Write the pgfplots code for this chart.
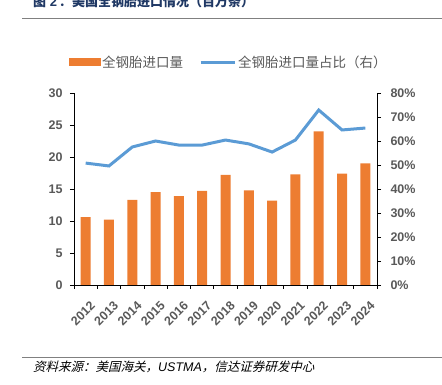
\documentclass[border=0pt]{standalone}
\usepackage{fontspec}
\setmainfont{Liberation Sans}
\newfontfamily\cjk{Noto Sans CJK SC}
\newfontfamily\cjkb{Noto Sans CJK SC Bold}
\newfontfamily\cjkit{Noto Sans CJK SC}[FakeSlant=0.25]
\usepackage{pgfplots}
\pgfplotsset{compat=1.18}
\definecolor{barorange}{HTML}{ED7D31}
\definecolor{lineblue}{HTML}{5B9BD5}
\definecolor{txtgray}{HTML}{595959}
\definecolor{titleblue}{HTML}{1F3864}
\begin{document}
\begin{tikzpicture}[x=1pt,y=1pt]
\path[use as bounding box] (0,0) rectangle (442,385);
\clip (0,0) rectangle (442,385);
\node[anchor=base west, inner sep=0pt, text=titleblue, font=\fontsize{13}{15}\selectfont\bfseries] at (33,378) {{\cjkb 图} 2\,{\cjkb ：美国全钢胎进口情况（百万条）}};
\draw[gray, line width=1pt] (22,366) -- (442,366);
\draw[gray, line width=1pt] (22,27) -- (442,27);
\node[anchor=base west, inner sep=0pt, text=black, font=\fontsize{12.5}{14}\selectfont] at (33,13) {{\cjkit 资料来源：美国海关，}\textit{USTMA}{\cjkit ，信达证券研发中心}};

\begin{axis}[
  at={(74pt,100pt)}, anchor=south west,
  scale only axis, width=303pt, height=192pt,
  xmin=-0.5, xmax=12.5, ymin=0, ymax=30,
  axis y line*=left, axis x line*=bottom,
  axis line style={draw=black, line width=0.8pt},
  xtick={0,...,12},
  xticklabels={2012,2013,2014,2015,2016,2017,2018,2019,2020,2021,2022,2023,2024},
  major x tick style={draw=none},
  minor xtick={-0.5,0.5,...,12.5},
  minor x tick style={draw=black, line width=0.8pt},
  minor tick length=4pt,
  ytick={0,5,...,30},
  ytick style={draw=black, line width=0.8pt},
  major tick length=4pt,
  tick align=outside,
  /pgf/number format/assume math mode=true,
  ticklabel style={font=\fontsize{12.5}{14}\selectfont\bfseries, text=txtgray},
  xticklabel style={xshift=4pt, yshift=-11pt, rotate=45, anchor=north east, inner sep=0pt},
  yticklabel style={xshift=-4pt},
  ybar, bar width=10pt,
]
\addplot[fill=barorange, draw=none] coordinates {
(0,10.6) (1,10.2) (2,13.3) (3,14.5) (4,13.9) (5,14.7) (6,17.2) (7,14.8) (8,13.2) (9,17.3) (10,24.0) (11,17.4) (12,19.0)};
\end{axis}

\begin{axis}[
  at={(74pt,100pt)}, anchor=south west,
  scale only axis, width=303pt, height=192pt,
  xmin=-0.5, xmax=12.5, ymin=0, ymax=80,
  axis y line*=right, axis x line=none,
  axis line style={draw=black, line width=0.8pt},
  ytick={0,10,...,80},
  ytick style={draw=black, line width=0.8pt},
  major tick length=4pt,
  tick align=outside,
  /pgf/number format/assume math mode=true,
  yticklabel={\pgfmathprintnumber{\tick}\%},
  ticklabel style={font=\fontsize{12.5}{14}\selectfont\bfseries, text=txtgray},
  yticklabel style={xshift=6pt},
  legend columns=2,
  legend style={at={(-0.028,1.161)}, anchor=west, draw=none, fill=none,
    font=\cjk\fontsize{13.5}{15}\selectfont, text=txtgray,
    /tikz/every even column/.append style={column sep=14pt},
    nodes={inner sep=2pt}},
]
\addlegendimage{legend image code/.code={\fill[barorange] (0pt,-3.5pt) rectangle (31pt,3.5pt);}}
\addlegendentry{全钢胎进口量}
\addlegendimage{legend image code/.code={\draw[lineblue, line width=3pt] (0pt,0pt) -- (34pt,0pt);}}
\addlegendentry{全钢胎进口量占比（右）}
\addplot[lineblue, line width=3pt, mark=none] coordinates {
(0,50.8) (1,49.6) (2,57.5) (3,60.0) (4,58.3) (5,58.3) (6,60.4) (7,58.8) (8,55.4) (9,60.4) (10,72.9) (11,64.6) (12,65.4)};
\end{axis}
\end{tikzpicture}
\end{document}
